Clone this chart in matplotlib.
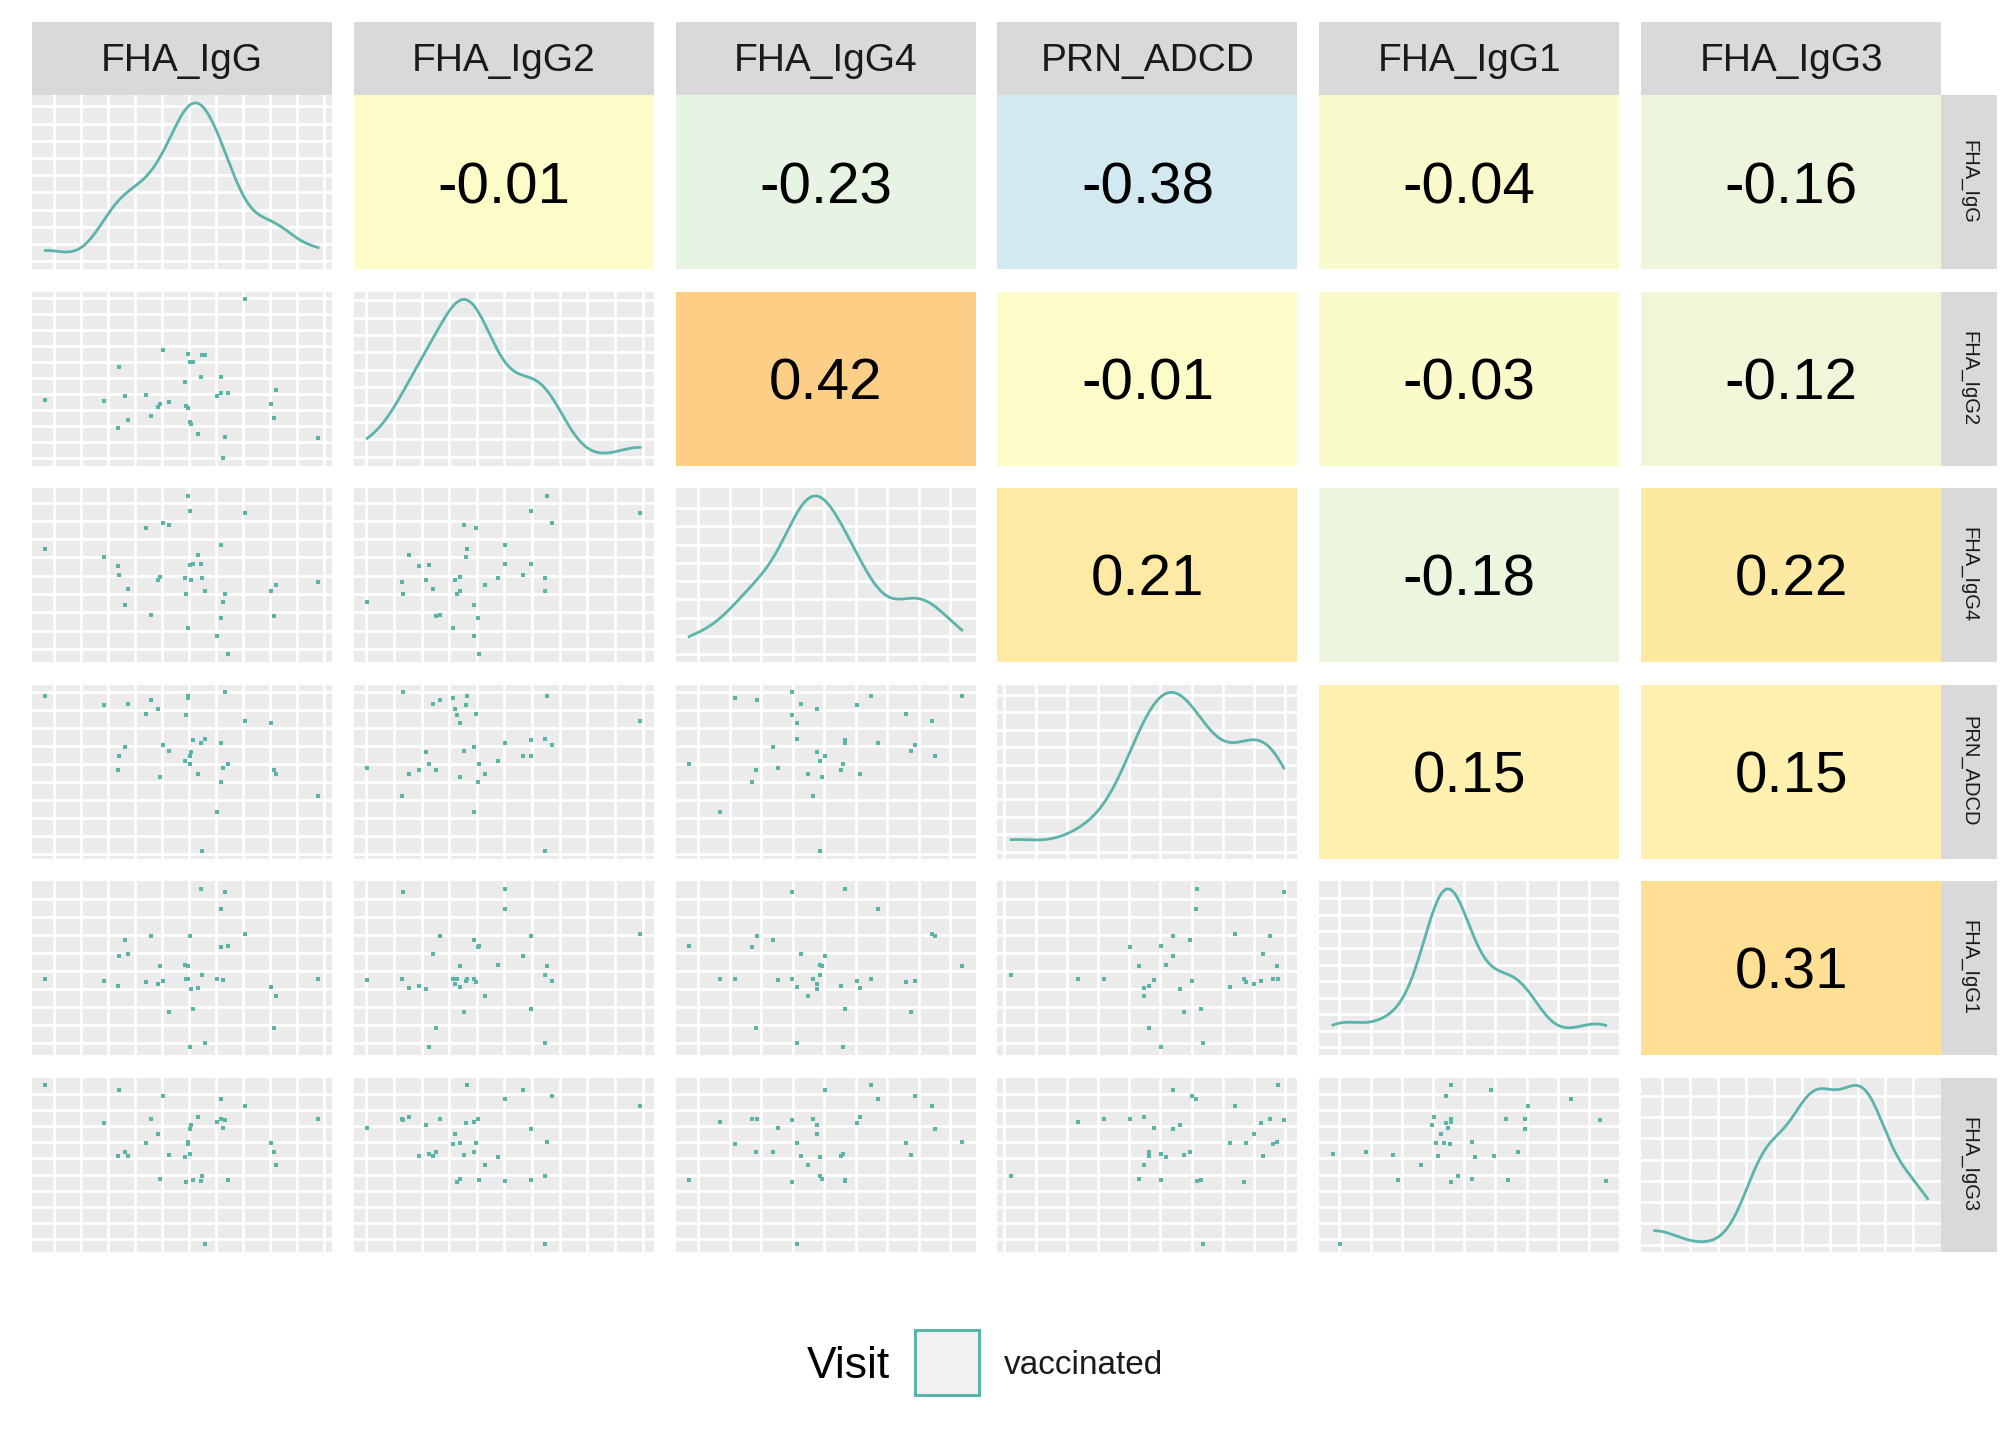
import numpy as np
import matplotlib
matplotlib.use("Agg")
import matplotlib.pyplot as plt
from matplotlib.colors import LinearSegmentedColormap, Normalize
from matplotlib.patches import Rectangle

plt.rcParams['font.family'] = ['Liberation Sans', 'DejaVu Sans']

# ---------------- data (arbitrary units) ----------------
variables = ["FHA_IgG", "FHA_IgG2", "FHA_IgG4", "PRN_ADCD", "FHA_IgG1", "FHA_IgG3"]

FHA_IgG = [4.8, 24.4, 29.1, 29.4, 31.1, 32.1, 38.1, 39.8, 42.1, 42.8, 44.0, 45.8,
           51.1, 51.4, 52.1, 52.1, 52.8, 52.8, 53.1, 54.0, 55.4, 56.4, 56.7, 58.0,
           61.8, 63.1, 63.1, 63.8, 64.4, 65.4, 71.0, 79.8, 80.8, 81.4, 95.4]
FHA_IgG2 = [38.4, 37.8, 22.1, 57.0, 40.7, 26.7, 41.3, 29.1, 34.3, 36.0, 66.9, 37.2,
            48.8, 34.9, 65.1, 33.7, 59.9, 25.6, 24.4, 59.9, 18.6, 51.2, 64.5, 64.5,
            40.7, 51.2, 41.9, 4.7, 16.9, 42.4, 96.5, 36.0, 27.9, 44.2, 16.3]
FHA_IgG4 = [64.9, 60.3, 55.0, 49.8, 32.4, 41.7, 76.6, 27.1, 46.9, 48.6, 79.5, 78.3,
            48.1, 38.8, 95.2, 19.6, 86.4, 55.6, 46.9, 56.2, 61.4, 56.2, 48.1, 40.5,
            14.9, 67.2, 25.4, 34.1, 38.8, 4.5, 85.3, 40.5, 26.6, 44.0, 45.7]
PRN_ADCD = [93.8, 88.1, 50.6, 58.7, 64.4, 88.7, 82.9, 91.0, 85.8, 47.1, 65.0, 62.1,
            56.3, 82.3, 93.3, 92.1, 58.7, 54.6, 61.0, 67.9, 48.8, 66.7, 4.4, 68.5,
            26.9, 66.2, 44.2, 52.3, 95.6, 54.6, 79.4, 77.7, 50.6, 48.8, 35.6]
FHA_IgG1 = [44.0, 42.3, 39.4, 57.3, 66.5, 58.5, 41.7, 68.8, 40.6, 51.0, 42.3, 24.4,
            52.1, 44.0, 51.0, 43.5, 68.8, 4.2, 37.7, 26.2, 38.3, 96.0, 46.3, 6.5,
            44.0, 84.4, 62.5, 42.9, 94.2, 63.1, 70.0, 38.8, 15.2, 33.7, 44.0]
FHA_IgG3 = [96.3, 74.4, 55.4, 93.5, 57.7, 55.4, 62.9, 76.7, 68.1, 42.1, 90.0, 56.0,
            54.8, 40.4, 63.5, 62.3, 71.0, 56.5, 73.3, 41.5, 77.9, 41.0, 43.8, 4.6,
            75.0, 88.3, 76.7, 71.5, 76.2, 41.5, 84.2, 62.9, 57.7, 50.2, 76.7]

data = [FHA_IgG, FHA_IgG2, FHA_IgG4, PRN_ADCD, FHA_IgG1, FHA_IgG3]

corr_rows = [0, 0, 0, 0, 0, 1, 1, 1, 1, 2, 2, 2, 3, 3, 4]
corr_cols = [1, 2, 3, 4, 5, 2, 3, 4, 5, 3, 4, 5, 4, 5, 5]
corr_values = [-0.01, -0.23, -0.38, -0.04, -0.16, 0.42, -0.01, -0.03, -0.12,
               0.21, -0.18, 0.22, 0.15, 0.15, 0.31]

legend_title = "Visit"
legend_label = "vaccinated"

# ---------------- style ----------------
TEAL = "#5AB4AC"
PANEL_BG = "#EBEBEB"
STRIP_BG = "#D9D9D9"
TXT = "#1A1A1A"

corr_cmap = LinearSegmentedColormap.from_list(
    "corr",
    [(0.00, "#CFE7F3"), (0.20, "#E8F4E3"), (0.33, "#F0F7D9"),
     (0.47, "#FCFCC5"), (0.65, "#FEF0AE"), (0.84, "#FEDF93"), (1.00, "#FDC982")])
corr_norm = Normalize(vmin=-0.40, vmax=0.45)

# gridline positions as fraction of each variable's axis (low -> high)
grid_frac = {
    0: [0.074 + 0.09 * k for k in range(11)],
    1: [0.043 + 0.092 * k for k in range(11)],
    2: [0.076 + 0.105 * k for k in range(9)],
    3: [0.023 + 0.104 * k for k in range(10)],
    4: [0.067 + 0.104 * k for k in range(9)],
    5: [0.070 + 0.093 * k for k in range(10)],
}
dens_grid = {
    0: [0.044 + 0.099 * k for k in range(10)],
    1: [0.050 + 0.100 * k for k in range(10)],
    2: [0.045 + 0.105 * k for k in range(9)],
    3: [0.040 + 0.100 * k for k in range(10)],
    4: [0.045 + 0.095 * k for k in range(10)],
    5: [0.040 + 0.122 * k for k in range(8)],
}

W, H = 2016, 1440
fig = plt.figure(figsize=(W / 100, H / 100), dpi=100)
fig.patch.set_facecolor("white")

col_x0, col_pitch, col_w = 31.7, 321.9, 300.0
row_y0, row_pitch, row_h = 95.0, 196.5, 174.0
strip_top, strip_right_w = 22.0, 56.0


def add_ax(x, y, w, h):
    return fig.add_axes([x / W, 1 - (y + h) / H, w / W, h / H])


def kde_nrd0(x, n=512):
    x = np.asarray(x, float)
    sd = x.std(ddof=1)
    q75, q25 = np.percentile(x, [75, 25])
    lo = min(sd, (q75 - q25) / 1.34)
    bw = 0.9 * lo * len(x) ** -0.2
    g = np.linspace(x.min(), x.max(), n)
    d = np.exp(-0.5 * ((g[:, None] - x[None, :]) / bw) ** 2).sum(1) / (len(x) * bw * np.sqrt(2 * np.pi))
    return g, d


def lims(v):
    lo, hi = min(v), max(v)
    pad = 0.05 * (hi - lo)
    return lo - pad, hi + pad


def style_panel(ax, xl, yl, xf, yf):
    ax.set_facecolor(PANEL_BG)
    ax.set_xlim(*xl)
    ax.set_ylim(*yl)
    ax.set_xticks([xl[0] + f * (xl[1] - xl[0]) for f in xf])
    ax.set_yticks([yl[0] + f * (yl[1] - yl[0]) for f in yf])
    ax.grid(True, color="white", lw=2.0)
    ax.set_axisbelow(True)
    ax.tick_params(length=0, labelbottom=False, labelleft=False)
    for s in ax.spines.values():
        s.set_visible(False)


corr_lookup = {(r, c): v for r, c, v in zip(corr_rows, corr_cols, corr_values)}

n = len(variables)
for i in range(n):
    for j in range(n):
        x = col_x0 + j * col_pitch
        y = row_y0 + i * row_pitch
        ax = add_ax(x, y, col_w, row_h)
        if i > j:
            xl, yl = lims(data[j]), lims(data[i])
            style_panel(ax, xl, yl, grid_frac[j], grid_frac[i])
            ax.scatter(data[j], data[i], s=10.5, marker="s", c=TEAL, linewidths=0, zorder=3)
        elif i == j:
            g, d = kde_nrd0(data[i])
            xl = lims(data[i])
            yl = (-0.05 * d.max(), 1.05 * d.max())
            style_panel(ax, xl, yl, grid_frac[j], dens_grid[i])
            ax.plot(g, d, color=TEAL, lw=2.0, zorder=3)
        else:
            v = corr_lookup[(i, j)]
            ax.set_facecolor(corr_cmap(corr_norm(v)))
            ax.set_xticks([]); ax.set_yticks([])
            for s in ax.spines.values():
                s.set_visible(False)
            ax.text(0.5, 0.5, f"{v:.2f}", ha="center", va="center_baseline",
                    fontsize=42, color="black", transform=ax.transAxes)

# top strips
for j in range(n):
    x = col_x0 + j * col_pitch
    sax = add_ax(x, strip_top, col_w, row_y0 - strip_top)
    sax.set_facecolor(STRIP_BG)
    sax.set_xticks([]); sax.set_yticks([])
    for s in sax.spines.values():
        s.set_visible(False)
    sax.text(0.5, 0.46, variables[j], ha="center", va="center", fontsize=28,
             color=TXT, transform=sax.transAxes)

# right strips
for i in range(n):
    y = row_y0 + i * row_pitch
    sax = add_ax(col_x0 + 5 * col_pitch + col_w, y, strip_right_w, row_h)
    sax.set_facecolor(STRIP_BG)
    sax.set_xticks([]); sax.set_yticks([])
    for s in sax.spines.values():
        s.set_visible(False)
    sax.text(0.5, 0.5, variables[i], ha="center", va="center", fontsize=14.5,
             rotation=270, color=TXT, transform=sax.transAxes)

# legend
fig.text(807 / W, 1 - 1366 / H, legend_title, ha="left", va="center", fontsize=32, color="black")
fig.patches.append(Rectangle((915 / W, 1 - 1395 / H), 64 / W, 65 / H,
                             transform=fig.transFigure, facecolor="#F2F2F2",
                             edgecolor=TEAL, lw=2.2))
fig.text(1004 / W, 1 - 1366 / H, legend_label, ha="left", va="center", fontsize=24, color=TXT)

fig.savefig("out.png", dpi=100, facecolor="white")
